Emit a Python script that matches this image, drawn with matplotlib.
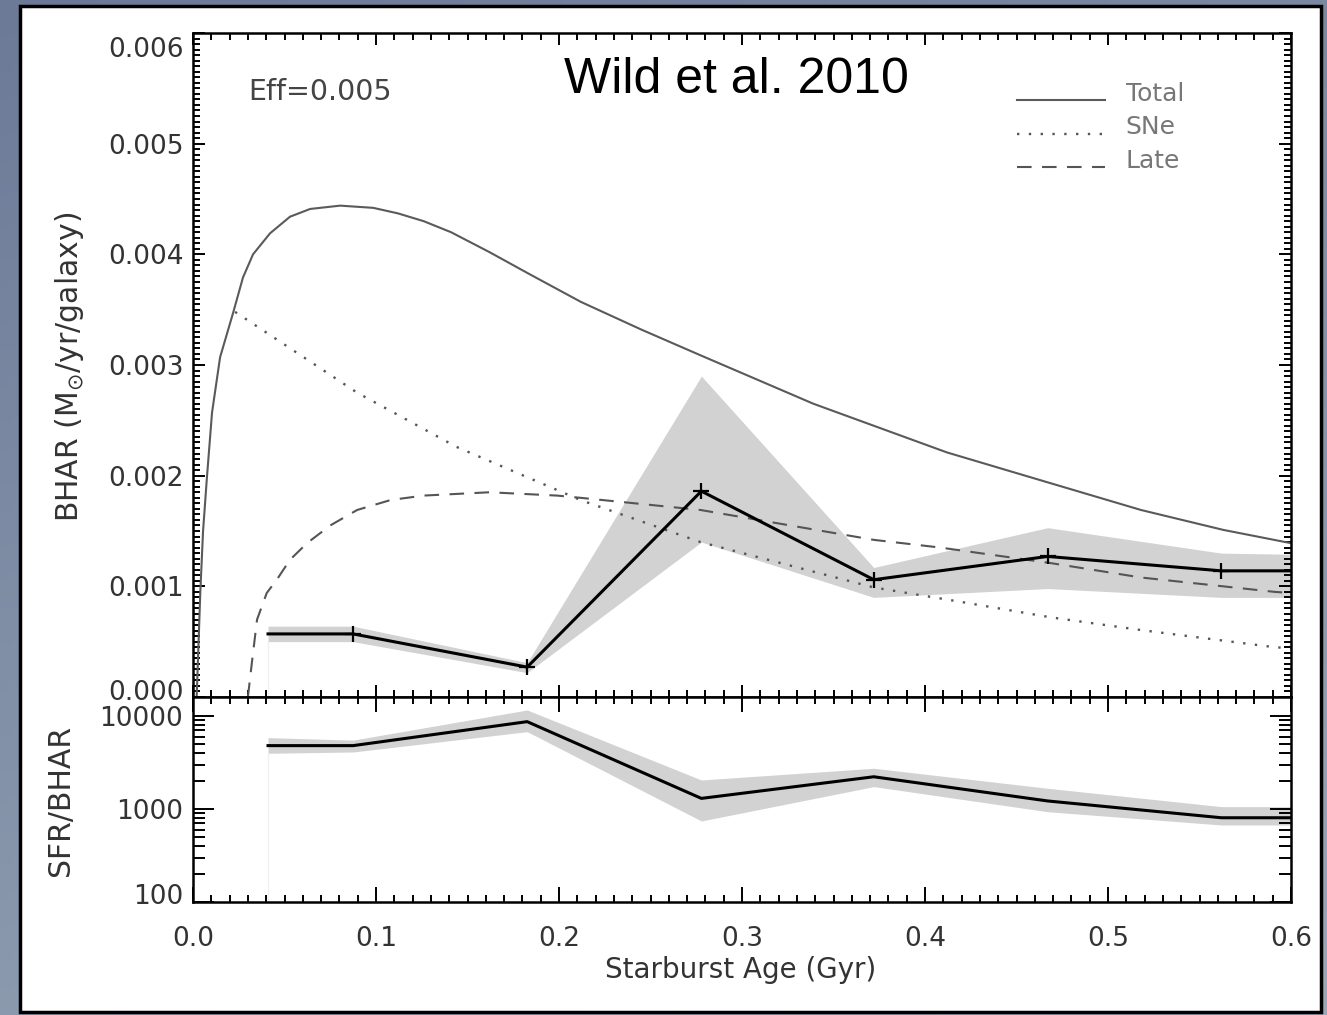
import numpy as np
import matplotlib
matplotlib.use("Agg")
import matplotlib.pyplot as plt
from matplotlib.patches import Rectangle
from matplotlib.lines import Line2D
from matplotlib.legend_handler import HandlerLine2D
from matplotlib.transforms import ScaledTranslation
from matplotlib.ticker import MultipleLocator, LogLocator, FuncFormatter, NullFormatter

# model curves, BHAR in units of 1e-3 Msun/yr/galaxy
total_age = [0.002, 0.004, 0.0055, 0.0075, 0.0104, 0.0148, 0.0219, 0.0273, 0.0328, 0.0421,
             0.053, 0.064, 0.0804, 0.0985, 0.112, 0.126, 0.141, 0.162, 0.184, 0.212,
             0.245, 0.277, 0.339, 0.412, 0.469, 0.518, 0.563, 0.6]
total_bhar = [0.0, 0.95, 1.5, 1.96, 2.57, 3.07, 3.47, 3.79, 4.0, 4.19,
              4.34, 4.41, 4.44, 4.42, 4.37, 4.30, 4.20, 4.02, 3.82, 3.57,
              3.32, 3.09, 2.65, 2.21, 1.93, 1.69, 1.51, 1.39]

sne_age = [0.023, 0.0897, 0.144, 0.199, 0.2117, 0.2773, 0.372, 0.4195, 0.4687, 0.518, 0.591, 0.6]
sne_bhar = [3.48, 2.75, 2.26, 1.87, 1.78, 1.40, 0.99, 0.86, 0.72, 0.605, 0.45, 0.44]

late_age = [0.030, 0.0321, 0.035, 0.0403, 0.0458, 0.053, 0.0623, 0.075, 0.0897, 0.108,
            0.126, 0.162, 0.199, 0.2117, 0.2773, 0.372, 0.4085, 0.4687, 0.518, 0.591, 0.6]
late_bhar = [0.0, 0.30, 0.70, 0.94, 1.06, 1.24, 1.39, 1.55, 1.69, 1.78,
             1.82, 1.85, 1.82, 1.80, 1.69, 1.42, 1.35, 1.21, 1.08, 0.95, 0.94]

# measured BHAR in starburst age bins
bin_age = [0.041, 0.0875, 0.1826, 0.2778, 0.372, 0.467, 0.562, 0.6]
bhar = [0.57, 0.57, 0.27, 1.86, 1.06, 1.27, 1.14, 1.14]
bhar_hi = [0.64, 0.64, 0.31, 2.90, 1.17, 1.53, 1.30, 1.29]
bhar_lo = [0.50, 0.50, 0.22, 1.40, 0.90, 0.98, 0.90, 0.90]
marker_age = [0.0875, 0.1826, 0.2778, 0.372, 0.467, 0.562]
marker_bhar = [0.57, 0.27, 1.86, 1.06, 1.27, 1.14]

ratio = [4800, 4800, 8690, 1300, 2220, 1220, 805, 805]
ratio_hi = [5850, 5500, 11600, 2050, 2740, 1670, 1060, 1060]
ratio_lo = [3970, 4100, 6780, 743, 1740, 935, 673, 673]

W, H = 1327, 1015
fig = plt.figure(figsize=(W / 100, H / 100), dpi=100)
plt.rcParams['mathtext.fontset'] = 'dejavusans'

# slide background with a soft blue-grey gradient
bg = fig.add_axes([0, 0, 1, 1], zorder=-10)
gy, gx = np.mgrid[0:1:200j, 0:1:200j]
grad = 0.55 * gy + 0.25 * gx
bg.imshow(grad, cmap=matplotlib.colors.LinearSegmentedColormap.from_list(
    'slide', ['#6c7a98', '#9aa8b8']), aspect='auto', extent=[0, 1, 0, 1], origin='upper')
bg.set_axis_off()

panel = Rectangle((20 / W, 1 - 1012 / H), 1301 / W, 1006 / H, transform=fig.transFigure,
                  facecolor='white', edgecolor='black', linewidth=2.5, zorder=-5)
fig.add_artist(panel)

ax1 = fig.add_axes([193 / W, 1 - 697 / H, 1098 / W, 664 / H])
ax2 = fig.add_axes([193 / W, 1 - 902 / H, 1098 / W, 205 / H])

scale = 1e-3
ax1.fill_between(bin_age, np.array(bhar_lo) * scale, np.array(bhar_hi) * scale,
                 color='#d2d2d2', linewidth=0, zorder=1)
ax1.plot([bin_age[0], bin_age[0]], [0, bhar_lo[0] * scale], color='#f0f0f0', lw=1, zorder=1)
ax1.plot(total_age, np.array(total_bhar) * scale, color='#5a5a5a', lw=1.5, zorder=2)
ax1.plot(sne_age, np.array(sne_bhar) * scale, color='#555555', lw=1.7,
         linestyle=(0, (1, 4)), zorder=2)
ax1.plot(late_age, np.array(late_bhar) * scale, color='#555555', lw=1.5,
         linestyle=(0, (7, 5)), zorder=2)
ax1.plot(bin_age, np.array(bhar) * scale, color='black', lw=2.2, zorder=3)
ax1.plot(marker_age, np.array(marker_bhar) * scale, linestyle='none', marker='+',
         ms=12, mew=1.6, color='black', zorder=4)

ax1.set_xlim(0, 0.6)
ax1.set_ylim(0, 0.006)
ax1.set_yticks([0, 0.001, 0.002, 0.003, 0.004, 0.005, 0.006])
ax1.yaxis.set_major_formatter(FuncFormatter(lambda v, p: '%.3f' % v))
ax1.xaxis.set_major_locator(MultipleLocator(0.1))
ax1.xaxis.set_minor_locator(MultipleLocator(0.01))
ax1.yaxis.set_minor_locator(MultipleLocator(0.00005))
ax1.xaxis.set_major_formatter(NullFormatter())

ax2.fill_between(bin_age, ratio_lo, ratio_hi, color='#d2d2d2', linewidth=0, zorder=1)
ax2.plot([bin_age[0], bin_age[0]], [100, ratio_lo[0]], color='#f0f0f0', lw=1, zorder=1)
ax2.plot(bin_age, ratio, color='black', lw=2.2, zorder=3)
ax2.set_yscale('log')
ax2.set_xlim(0, 0.6)
ax2.set_ylim(100, 10 ** 4.204)
ax2.set_yticks([100, 1000, 10000])
ax2.yaxis.set_major_formatter(FuncFormatter(lambda v, p: '%d' % v))
ax2.yaxis.set_minor_locator(LogLocator(base=10, subs=np.arange(2, 10)))
ax2.yaxis.set_minor_formatter(NullFormatter())
ax2.xaxis.set_major_locator(MultipleLocator(0.1))
ax2.xaxis.set_minor_locator(MultipleLocator(0.01))
ax2.xaxis.set_major_formatter(FuncFormatter(lambda v, p: '%.1f' % v))

for ax in (ax1, ax2):
    for sp in ax.spines.values():
        sp.set_linewidth(1.8)
    ax.tick_params(which='both', direction='in', top=True, right=True, width=1.4,
                   colors='black', labelcolor='#333333', labelsize=19, pad=7)
    ax.tick_params(which='major', length=8.6)
    ax.tick_params(which='minor', length=5)
ax2.tick_params(axis='y', which='major', length=15)
ax2.tick_params(axis='y', which='minor', length=8.5)
ax2.tick_params(axis='x', which='major', length=11)
ax2.tick_params(axis='x', pad=17)


def shift_label(tick, dy_px):
    lab = tick.label1
    lab.set_transform(lab.get_transform() + ScaledTranslation(0, dy_px / 100, fig.dpi_scale_trans))


# move the end labels off the panel boundaries
yt1 = ax1.yaxis.get_major_ticks()
shift_label(yt1[0], 7)
shift_label(yt1[-1], -14)
shift_label(ax2.yaxis.get_major_ticks()[0], 8)


class LowLine(HandlerLine2D):
    # legend samples sit a little below the label centre
    def create_artists(self, *args, **kwargs):
        arts = super().create_artists(*args, **kwargs)
        for a in arts:
            a.set_ydata(np.asarray(a.get_ydata()) - 5.8)
        return arts


handles = [Line2D([], [], color='#5a5a5a', lw=1.5),
           Line2D([], [], color='#555555', lw=1.7, linestyle=(0, (1, 4))),
           Line2D([], [], color='#555555', lw=1.5, linestyle=(0, (7, 5)))]
leg = fig.legend(handles, ['Total', 'SNe', 'Late'], loc='upper left',
                 bbox_to_anchor=(1017 / W, 1 - 82 / H), frameon=False, fontsize=18,
                 handlelength=3.5, handletextpad=0.85, labelspacing=0.38, borderpad=0,
                 borderaxespad=0, handler_map={Line2D: LowLine()})
for t in leg.get_texts():
    t.set_color('#777777')

fig.text(248 / W, 1 - 92 / H, 'Eff=0.005', ha='left', va='center', fontsize=20.5, color='#444444')
fig.text(736 / W, 1 - 80 / H, 'Wild et al. 2010', ha='center', va='center', fontsize=36,
         family='Liberation Sans', color='black')
fig.text(70 / W, 1 - 367 / H, r'BHAR (M$_{\odot}$/yr/galaxy)', rotation=90, ha='center',
         va='center', fontsize=21.5, color='#333333')
fig.text(60 / W, 1 - 800 / H, 'SFR/BHAR', rotation=90, ha='center', va='center',
         fontsize=21.5, color='#333333')
fig.text(741 / W, 1 - 970 / H, 'Starburst Age (Gyr)', ha='center', va='center',
         fontsize=20, color='#333333')

fig.savefig('out.png', dpi=100)
